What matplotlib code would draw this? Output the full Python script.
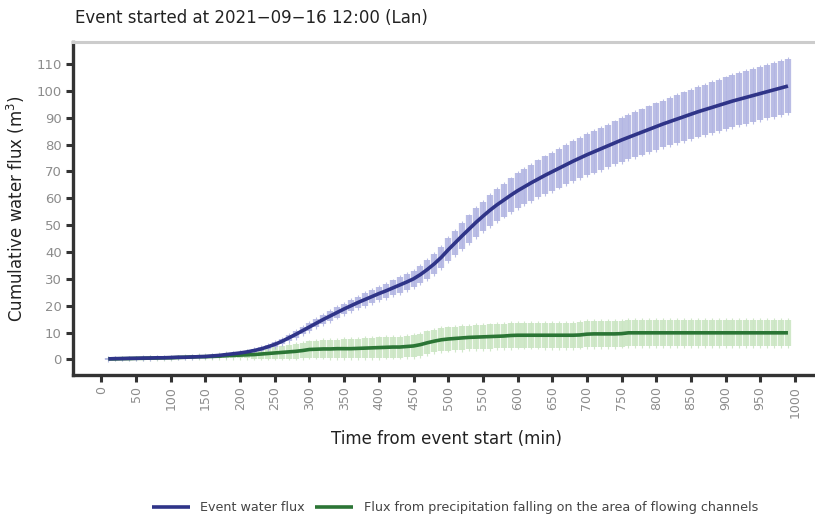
import matplotlib
matplotlib.use("Agg")
import matplotlib.pyplot as plt
import numpy as np

plt.rcParams['font.family'] = ['DejaVu Sans']

time_min = list(range(10, 1000, 10))

event_flux = [
    0.2, 0.3, 0.3, 0.4, 0.4, 0.5, 0.5, 0.6, 0.6, 0.7,
    0.8, 0.8, 0.9, 1.0, 1.1, 1.3, 1.5, 1.8, 2.1, 2.4,
    2.8, 3.3, 3.9, 4.7, 5.6, 6.7, 8.0, 9.3, 10.7, 12.1,
    13.5, 14.9, 16.2, 17.5, 18.8, 20.0, 21.2, 22.3, 23.4, 24.5,
    25.5, 26.6, 27.7, 28.8, 30.0, 31.6, 33.5, 35.6, 38.0, 40.8,
    43.4, 46.0, 48.5, 51.0, 53.3, 55.5, 57.5, 59.3, 61.1, 62.8,
    64.3, 65.8, 67.2, 68.6, 69.9, 71.2, 72.5, 73.8, 75.0, 76.2,
    77.3, 78.4, 79.5, 80.6, 81.7, 82.7, 83.7, 84.7, 85.7, 86.7,
    87.7, 88.6, 89.5, 90.4, 91.3, 92.2, 93.0, 93.8, 94.6, 95.4,
    96.2, 96.9, 97.6, 98.3, 99.0, 99.7, 100.4, 101.1, 101.8,
]
event_err = [
    0.3, 0.3, 0.3, 0.3, 0.3, 0.3, 0.3, 0.3, 0.3, 0.3,
    0.3, 0.3, 0.3, 0.3, 0.3, 0.3, 0.3, 0.4, 0.4, 0.5,
    0.5, 0.6, 0.7, 0.8, 0.9, 1.0, 1.1, 1.2, 1.3, 1.5,
    1.6, 1.7, 1.8, 1.9, 2.0, 2.1, 2.2, 2.3, 2.4, 2.5,
    2.6, 2.8, 2.9, 3.0, 3.1, 3.3, 3.5, 3.7, 4.0, 4.3,
    4.6, 4.9, 5.1, 5.3, 5.5, 5.7, 5.9, 6.1, 6.3, 6.5,
    6.6, 6.7, 6.9, 7.0, 7.1, 7.2, 7.3, 7.4, 7.5, 7.6,
    7.7, 7.8, 7.9, 8.0, 8.1, 8.2, 8.3, 8.4, 8.5, 8.6,
    8.7, 8.8, 8.9, 9.0, 9.1, 9.2, 9.3, 9.4, 9.5, 9.6,
    9.7, 9.7, 9.8, 9.8, 9.9, 9.9, 10.0, 10.0, 10.1,
]

precip_flux = [
    0.2, 0.2, 0.3, 0.3, 0.4, 0.4, 0.5, 0.5, 0.6, 0.6,
    0.7, 0.8, 0.9, 1.0, 1.0, 1.1, 1.2, 1.4, 1.5, 1.6,
    1.7, 1.8, 2.0, 2.2, 2.4, 2.6, 2.8, 3.0, 3.3, 3.7,
    3.8, 3.9, 3.9, 4.0, 4.0, 4.0, 4.1, 4.2, 4.3, 4.4,
    4.5, 4.6, 4.6, 4.8, 5.0, 5.5, 6.2, 6.8, 7.3, 7.6,
    7.8, 8.0, 8.2, 8.3, 8.4, 8.5, 8.6, 8.7, 8.9, 9.0,
    9.0, 9.0, 9.0, 9.0, 9.0, 9.0, 9.0, 9.0, 9.1, 9.4,
    9.5, 9.5, 9.5, 9.5, 9.6, 9.9, 9.9, 9.9, 9.9, 9.9,
    9.9, 9.9, 9.9, 9.9, 9.9, 9.9, 9.9, 9.9, 9.9, 9.9,
    9.9, 9.9, 9.9, 9.9, 9.9, 9.9, 9.9, 9.9, 9.9,
]
precip_err = [
    0.2, 0.2, 0.2, 0.2, 0.3, 0.3, 0.3, 0.3, 0.4, 0.4,
    0.4, 0.5, 0.5, 0.6, 0.6, 0.7, 0.8, 0.9, 1.0, 1.1,
    1.3, 1.5, 1.7, 1.9, 2.1, 2.3, 2.5, 2.7, 2.9, 3.0,
    3.1, 3.2, 3.3, 3.4, 3.5, 3.6, 3.6, 3.7, 3.7, 3.8,
    3.8, 3.9, 3.9, 4.0, 4.0, 4.1, 4.2, 4.2, 4.3, 4.3,
    4.4, 4.4, 4.4, 4.5, 4.5, 4.5, 4.5, 4.6, 4.6, 4.6,
    4.6, 4.6, 4.6, 4.7, 4.7, 4.7, 4.7, 4.7, 4.7, 4.8,
    4.8, 4.8, 4.8, 4.8, 4.8, 4.8, 4.8, 4.8, 4.8, 4.8,
    4.9, 4.9, 4.9, 4.9, 4.9, 4.9, 4.9, 4.9, 4.9, 4.9,
    4.9, 4.9, 4.9, 4.9, 4.9, 4.9, 4.9, 4.9, 4.9,
]

x_ticks = list(range(0, 1001, 50))
y_ticks = list(range(0, 111, 10))

title = "Event started at 2021\u221209\u221216 12:00 (Lan)"
series_labels = ["Event water flux",
                 "Flux from precipitation falling on the area of flowing channels"]

blue_line = "#2f3488"
blue_band = "#b3b6e3"
green_line = "#2b7535"
green_band = "#cbe6c3"

fig = plt.figure(figsize=(8.15, 5.16), dpi=100)
ax = fig.add_axes([0.0896, 0.2733, 0.9104, 0.6453])

t = np.array(time_min)
for mean, err, band, zb in [(precip_flux, precip_err, green_band, 1),
                            (event_flux, event_err, blue_band, 2)]:
    m = np.array(mean)
    e = np.array(err)
    ax.vlines(t, m - e, m + e, colors=band, linewidth=4.5, alpha=0.9, zorder=zb)
    ax.vlines(t, m - e - 0.7, m + e + 0.7, colors=band, linewidth=0.8, alpha=0.9, zorder=zb)

ax.plot(t, precip_flux, color=green_line, lw=2.6, zorder=3, label=series_labels[1],
        solid_capstyle='butt')
ax.plot(t, event_flux, color=blue_line, lw=2.6, zorder=4, label=series_labels[0],
        solid_capstyle='butt')

ax.set_xlim(-41, 1029)
ax.set_ylim(-5.8, 118.2)
ax.set_xticks(x_ticks)
ax.set_yticks(y_ticks)
ax.set_xticklabels([str(v) for v in x_ticks], rotation=90, color="#8c8c8c", fontsize=9.0)
ax.set_yticklabels([str(v) for v in y_ticks], color="#8c8c8c", fontsize=9.5)
ax.tick_params(axis='both', length=5, width=2.2, color="#333333", pad=3)

for s in ['left', 'bottom']:
    ax.spines[s].set_color("#333333")
    ax.spines[s].set_linewidth(2.4)
ax.spines['right'].set_visible(False)
ax.spines['top'].set_color("#cccccc")
ax.spines['top'].set_linewidth(2.2)

ax.set_xlabel("Time from event start (min)", fontsize=12.0, color="#222222")
ax.set_ylabel("Cumulative water flux (m$^3$)", fontsize=12.0, color="#222222")
ax.xaxis.set_label_coords(0.504, -0.165)
ax.yaxis.set_label_coords(-0.062, 0.5)

fig.text(0.092, 0.965, title, fontsize=12.0, color="#222222", ha='left', va='center')

h, l = ax.get_legend_handles_labels()
order = [1, 0]
leg = fig.legend([h[i] for i in order], [l[i] for i in order], loc='center',
                 bbox_to_anchor=(0.558, 0.016), ncol=2, frameon=False, fontsize=9.2,
                 handlelength=3.0, columnspacing=0.8, handletextpad=0.8)
for txt in leg.get_texts():
    txt.set_color("#444444")

fig.savefig("out.png", dpi=100)
